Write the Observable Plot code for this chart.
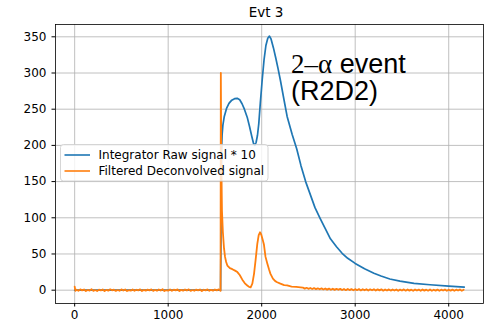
<!DOCTYPE html>
<html><head><meta charset="utf-8">
<script src="https://cdn.jsdelivr.net/npm/d3@7"></script>
<script src="https://cdn.jsdelivr.net/npm/@observablehq/plot@0.6"></script>
<style>body{margin:0;background:#fff}</style>
</head><body><div id="chart"></div>
<script>
// ---- Data ----
const titleText = "Evt 3";
const seriesNames = ["Integrator Raw signal * 10", "Filtered Deconvolved signal"];
const seriesColors = ["#1f77b4", "#ff7f0e"];
const xTicks = [0, 1000, 2000, 3000, 4000];
const yTicks = [0, 50, 100, 150, 200, 250, 300, 350];

// Integrator raw signal * 10 (sample index, value)
const rawT = [0, 1560, 1564, 1567, 1571, 1577, 1585, 1600, 1624, 1650, 1680, 1710, 1738, 1765, 1790, 1815, 1845, 1870, 1895, 1912, 1926, 1940, 1955, 1969, 1985, 2005, 2025, 2045, 2065, 2083, 2100, 2125, 2150, 2175, 2200, 2240, 2272, 2326, 2375, 2420, 2470, 2520, 2570, 2622, 2680, 2735, 2800, 2860, 2920, 3000, 3100, 3200, 3276, 3370, 3479, 3629, 3800, 4000, 4166];
const rawV = [0, 0, 60, 150, 195, 215, 228, 240, 251, 258, 262.5, 264.5, 265, 263, 257.5, 250, 239, 226, 212, 203, 200, 204, 214, 230, 258, 290, 318, 338, 348, 351, 347, 335, 321, 306, 290, 262, 240, 215, 195, 172, 150, 132, 114, 100, 85, 71, 60, 51, 44, 37, 29.5, 23.5, 19.5, 15.5, 12.5, 9.5, 7.5, 5.5, 4.2];

// Filtered deconvolved signal
const decStartT = [0, 8];
const decStartV = [5, -1];
const decBaseStep = 20; // baseline samples at 20, 40, ... 1560
const decBaseV = [0.6,-0.8,1.1,-0.3,0.9,-1.2,0.4,-0.6,1.3,-0.9,
  0.2,-1.1,0.8,-0.4,1.0,-1.3,0.5,-0.7,1.2,-0.2,
  0.7,-1.0,0.3,-0.8,1.1,-0.5,0.9,-1.2,0.1,-0.6,
  1.0,-0.9,0.6,-0.3,1.2,-1.1,0.4,-0.7,0.8,-0.2,
  1.1,-1.0,0.5,-0.8,0.9,-0.4,1.3,-1.2,0.2,-0.6,
  1.0,-0.9,0.7,-0.3,1.1,-1.1,0.4,-0.7,0.9,-0.5,
  1.2,-1.0,0.3,-0.8,0.8,-0.2,1.0,-1.2,0.6,-0.4,
  1.1,-0.9,0.5,-0.7,0.9,-0.3,1.2,-1.0];
const decEventT = [1563, 1568, 1575, 1585, 1597, 1608, 1620, 1633, 1660, 1686, 1715, 1740, 1765, 1793, 1820, 1846, 1865, 1882, 1900, 1918, 1935, 1953, 1968, 1982, 1995, 2010, 2024, 2041, 2060, 2078, 2094, 2120, 2145, 2166, 2200, 2240, 2272, 2320, 2370, 2415];
const decEventV = [300, 180, 110, 80, 58, 46, 39, 34, 30.5, 29, 27, 25, 21, 14.5, 9.5, 6.5, 4.5, 4, 9, 22.6, 42, 64, 76, 80, 77, 70, 63, 46, 37, 29, 22.5, 16, 12.5, 11, 9, 7, 6.5, 5, 4.5, 4];
const decTailStart = 2440; // tail samples at 2440, 2460, ... 4160
const decTailV = [3.6,2.2,3.3,1.9,3.0,1.6,2.9,1.5,2.6,1.3,
  2.5,1.0,2.3,0.8,2.2,0.6,2.0,0.4,1.9,0.5,
  1.8,0.2,1.6,0.0,1.7,0.1,1.5,-0.1,1.4,0.0,
  1.5,-0.3,1.3,-0.2,1.4,-0.4,1.2,-0.1,1.3,-0.5,
  1.1,-0.3,1.2,-0.7,1.0,-0.4,1.1,-0.6,0.9,-0.4,
  1.0,-0.8,0.8,-0.5,1.1,-0.7,0.9,-0.6,0.7,-0.8,
  0.9,-0.5,0.8,-0.9,1.0,-0.6,0.7,-0.7,0.9,-0.8,
  0.6,-0.6,0.8,-0.9,0.7,-0.5,0.9,-0.8,0.6,-0.6,
  0.8,-0.9,0.7,-0.5,0.9,-0.8,0.6];

const annotationLine1 = ["2\u2013\u03b1", " event"];
const annotationLine2 = "(R2D2)";

// ---- Build tables ----
const raw = rawT.map((t, i) => ({t, v: rawV[i]}));
const dec = [
  ...decStartT.map((t, i) => ({t, v: decStartV[i]})),
  ...decBaseV.map((v, i) => ({t: decBaseStep * (i + 1), v})),
  ...decEventT.map((t, i) => ({t, v: decEventV[i]})),
  ...decTailV.map((v, i) => ({t: decTailStart + decBaseStep * i, v}))
];

const W = 492, H = 322;
const mL = 55, mR = 9, mT = 24, mB = 19;
const gridStyle = {stroke: "#b0b0b0", strokeOpacity: 1, strokeWidth: 0.8};

const plot = Plot.plot({
  width: W, height: H,
  marginLeft: mL, marginRight: mR, marginTop: mT, marginBottom: mB,
  style: {fontFamily: "DejaVu Sans", fontSize: "12px", color: "#000", background: "#fff"},
  x: {domain: [-205, 4372], ticks: xTicks},
  y: {domain: [-18.4, 367]},
  marks: [
    Plot.gridX(xTicks, gridStyle),
    Plot.gridY(yTicks, gridStyle),
    Plot.line(raw, {x: "t", y: "v", stroke: seriesColors[0], strokeWidth: 1.7}),
    Plot.line(dec, {x: "t", y: "v", stroke: seriesColors[1], strokeWidth: 1.8}),
    Plot.frame({stroke: "#000", strokeWidth: 0.8}),
    Plot.axisX(xTicks, {tickSize: 3.5, tickPadding: 3, tickFormat: d3.format("d"), label: null, fontSize: 12}),
    Plot.axisY(yTicks, {tickSize: 3.5, tickPadding: 5.5, tickFormat: d3.format("d"), label: null, fontSize: 12})
  ]
});
document.getElementById("chart").appendChild(plot);

const svg = d3.select(plot);
// title
svg.append("text").attr("x", 266).attr("y", 17).attr("text-anchor", "middle")
  .attr("font-family", "DejaVu Sans").attr("font-size", 13.5).attr("fill", "#000").text(titleText);

// annotation
const ann = svg.append("text").attr("x", 291).attr("y", 72.7).attr("text-anchor", "start")
  .attr("font-size", 27).attr("fill", "#000");
ann.append("tspan").attr("font-family", "Liberation Serif").text(annotationLine1[0]);
ann.append("tspan").attr("font-family", "Liberation Sans").text(annotationLine1[1]);
svg.append("text").attr("x", 291).attr("y", 100).attr("font-size", 27).attr("text-anchor", "start")
  .attr("font-family", "Liberation Sans").attr("fill", "#000").text(annotationLine2);

// legend
const lg = svg.append("g");
lg.append("rect").attr("x", 60.5).attr("y", 144.5).attr("width", 207.5).attr("height", 36.5)
  .attr("rx", 3).attr("fill", "#ffffff").attr("fill-opacity", 0.8)
  .attr("stroke", "#cccccc").attr("stroke-width", 0.8);
seriesNames.forEach((name, i) => {
  const y = 155 + i * 16;
  lg.append("path").attr("d", `M64.5,${y}H90`).attr("fill", "none")
    .attr("stroke", seriesColors[i]).attr("stroke-width", 1.6);
  lg.append("text").attr("x", 98.5).attr("y", y + 4.3).attr("text-anchor", "start")
    .attr("font-family", "DejaVu Sans")
    .attr("font-size", 12).attr("fill", "#000").text(name);
});
</script></body></html>
